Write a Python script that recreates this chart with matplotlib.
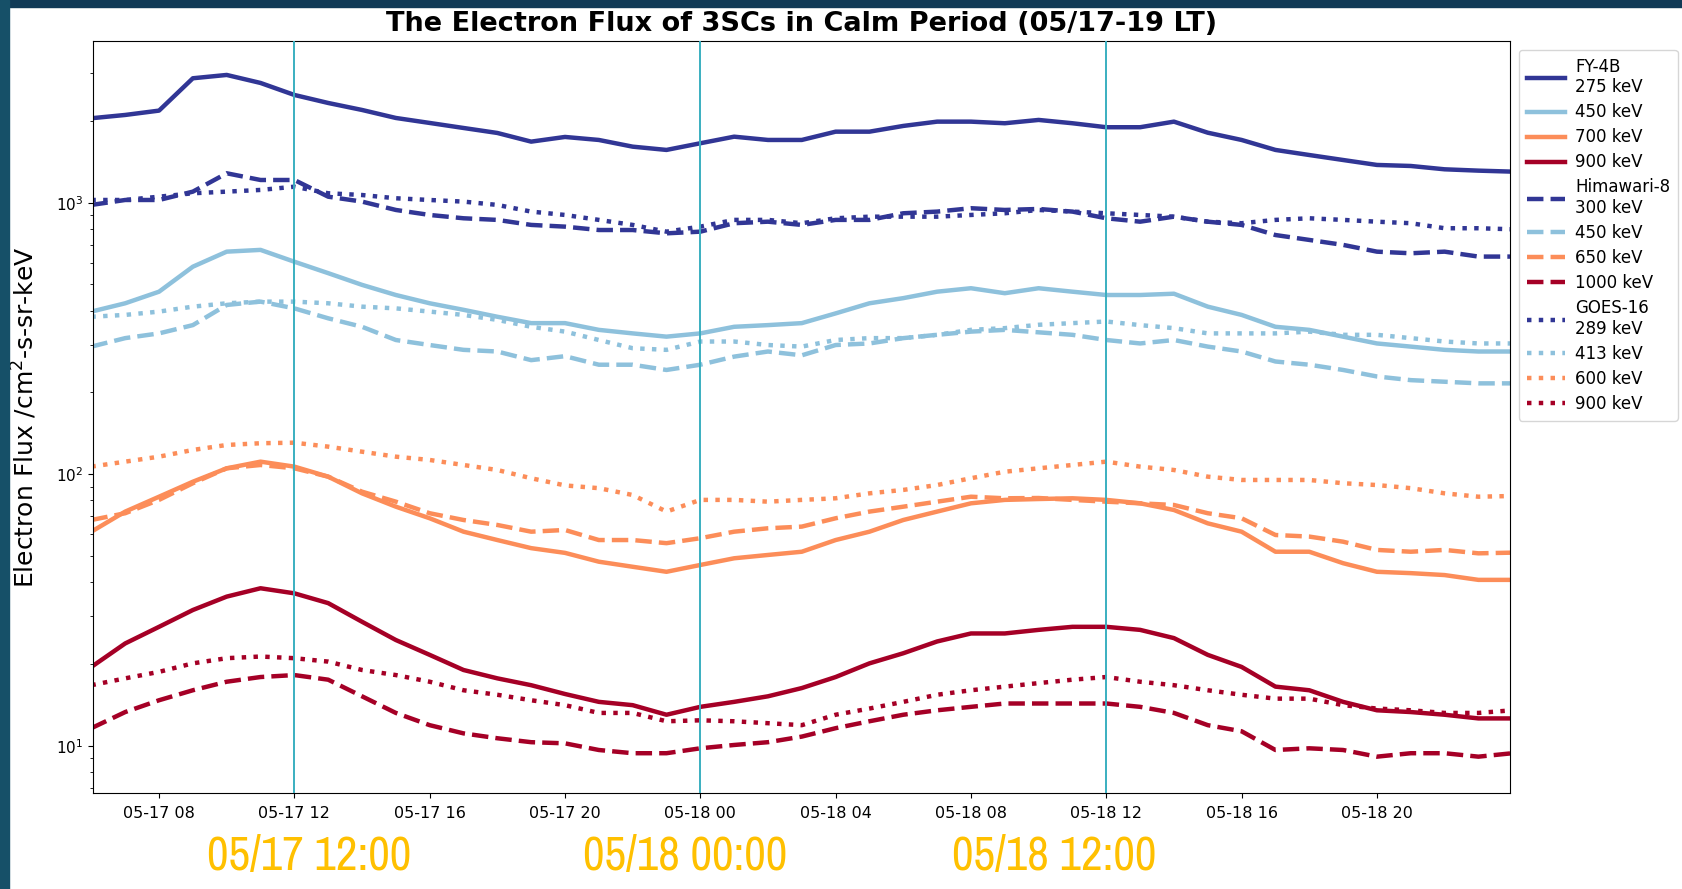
import numpy as np
import pandas as pd
import matplotlib
matplotlib.use('Agg')
import matplotlib.pyplot as plt
import matplotlib.dates as mdates
from matplotlib.patches import Rectangle
from matplotlib import font_manager

# hourly samples, 05-17 06:00 -> 05-19 00:00 (LT)
times = pd.date_range('2023-05-17 06:00', periods=43, freq='h')

# FY-4B (solid)
fy_275 = [2046, 2104, 2183, 2872, 2954, 2760, 2493, 2329, 2195, 2051, 1966, 1884, 1806, 1678, 1746,
          1702, 1608, 1564, 1655, 1750, 1702, 1702, 1826, 1826, 1917, 1988, 1988, 1961, 2017, 1961,
          1896, 1896, 1988, 1810, 1702, 1564, 1498, 1436, 1377, 1365, 1327, 1312, 1301]
fy_450 = [397, 426, 470, 581, 660, 670, 606, 550, 498, 457, 426, 403, 380, 360, 360, 340, 330, 321,
          330, 349, 354, 360, 391, 426, 445, 470, 484, 464, 484, 470, 457, 457, 462, 414, 386, 349,
          340, 321, 303, 295, 287, 283, 283]
fy_700 = [61.4, 72.8, 82.6, 93.8, 105.1, 111.2, 106.6, 97.9, 85.0, 75.9, 68.8, 61.4, 57.2, 53.4, 51.3,
          47.6, 45.6, 43.7, 46.3, 49.0, 50.4, 51.8, 57.2, 61.4, 67.8, 72.8, 78.1, 80.4, 81.0, 81.5,
          80.4, 78.1, 73.8, 65.9, 61.4, 51.8, 51.8, 47.0, 43.7, 43.2, 42.5, 40.8, 40.8]
fy_900 = [19.5, 23.8, 27.4, 31.6, 35.4, 38.0, 36.4, 33.5, 28.6, 24.5, 21.6, 19.0, 17.7, 16.7, 15.5,
          14.5, 14.1, 13.0, 13.9, 14.5, 15.2, 16.3, 17.9, 20.1, 21.9, 24.2, 25.9, 25.9, 26.7, 27.4,
          27.4, 26.7, 24.9, 21.6, 19.5, 16.5, 16.0, 14.5, 13.5, 13.3, 13.0, 12.6, 12.6]

# Himawari-8 (dashed)
hi_300 = [981, 1023, 1023, 1098, 1283, 1212, 1212, 1052, 1009, 940, 901, 876, 864, 828, 816, 793,
          793, 771, 782, 840, 851, 828, 864, 864, 914, 927, 954, 940, 948, 927, 876, 851, 888, 851,
          828, 760, 729, 699, 660, 651, 660, 633, 633]
hi_450 = [295, 317, 330, 354, 420, 432, 408, 375, 349, 312, 299, 287, 283, 263, 272, 253, 253, 242,
          253, 271, 283, 274, 299, 303, 317, 326, 335, 340, 333, 326, 312, 303, 312, 295, 283, 260,
          253, 242, 229, 222, 219, 216, 216]
hi_650 = [67.8, 71.8, 80.4, 92.6, 105.1, 108.1, 105.1, 97.9, 86.2, 79.2, 71.8, 67.8, 65.0, 61.4, 62.3,
          57.2, 57.2, 55.7, 58.1, 61.4, 63.2, 64.1, 68.8, 72.8, 75.9, 79.2, 82.6, 81.5, 81.7, 80.4,
          79.2, 78.1, 77.0, 71.8, 68.8, 59.7, 58.9, 56.4, 52.6, 51.8, 52.6, 51.1, 51.4]
hi_1000 = [11.6, 13.3, 14.7, 16.0, 17.2, 17.9, 18.2, 17.5, 15.2, 13.2, 11.9, 11.1, 10.65, 10.3, 10.2,
           9.64, 9.38, 9.38, 9.78, 10.06, 10.3, 10.8, 11.6, 12.3, 13.0, 13.5, 13.9, 14.3, 14.3, 14.3,
           14.3, 13.9, 13.2, 11.9, 11.3, 9.64, 9.78, 9.64, 9.11, 9.38, 9.38, 9.11, 9.38]

# GOES-16 (dotted)
go_289 = [1023, 1023, 1052, 1083, 1098, 1114, 1145, 1083, 1067, 1038, 1023, 1009, 981, 927, 901, 864,
          828, 782, 816, 864, 864, 840, 876, 888, 888, 888, 901, 914, 940, 927, 914, 901, 888, 851,
          840, 864, 876, 864, 851, 840, 805, 805, 798]
go_413 = [380, 386, 397, 414, 426, 432, 432, 426, 414, 408, 397, 386, 370, 349, 335, 312, 291, 287,
          308, 308, 299, 295, 312, 317, 317, 326, 340, 345, 355, 360, 365, 354, 345, 330, 330, 330,
          335, 326, 326, 317, 308, 303, 303]
go_600 = [106.6, 111.2, 116.0, 122.8, 128.1, 130.0, 130.6, 126.3, 121.0, 116.0, 112.8, 108.1, 103.6,
          96.6, 90.9, 88.8, 83.8, 72.8, 80.4, 80.4, 79.2, 80.4, 81.5, 85.0, 87.5, 91.2, 96.6, 102.1,
          105.1, 108.1, 111.2, 106.6, 103.6, 97.9, 95.2, 95.2, 95.2, 92.6, 91.2, 88.8, 85.0, 82.6, 83.1]
go_900 = [16.7, 17.7, 18.7, 20.1, 21.0, 21.3, 21.0, 20.4, 19.0, 18.2, 17.2, 16.0, 15.4, 14.7, 14.1,
          13.2, 13.2, 12.3, 12.4, 12.3, 12.1, 11.9, 13.0, 13.7, 14.5, 15.4, 16.0, 16.5, 17.0, 17.5,
          17.9, 17.2, 16.7, 16.0, 15.4, 14.9, 14.9, 14.1, 13.7, 13.5, 13.2, 13.2, 13.5]

labels = ['FY-4B\n275 keV', '450 keV', '700 keV', '900 keV',
          'Himawari-8\n300 keV', '450 keV', '650 keV', '1000 keV',
          'GOES-16\n289 keV', '413 keV', '600 keV', '900 keV']
marked_times = ['2023-05-17 12:00', '2023-05-18 00:00', '2023-05-18 12:00']
marked_text = ['05/17 12:00', '05/18 00:00', '05/18 12:00']

colors = ['#313695', '#8ec1dc', '#fc8d59', '#a50026']
series = [fy_275, fy_450, fy_700, fy_900,
          hi_300, hi_450, hi_650, hi_1000,
          go_289, go_413, go_600, go_900]
styles = ['-'] * 4 + ['--'] * 4 + [':'] * 4

plt.rcParams['font.family'] = ['DejaVu Sans']


def narrow_font():
    # pick a narrow face for the captions if one is installed
    wanted = ('narrow', 'condensed')
    for f in font_manager.fontManager.ttflist:
        if any(w in f.name.lower() for w in wanted) and f.style == 'normal' \
                and f.weight in (300, 400, 'normal', 'light', 'regular'):
            return font_manager.FontProperties(fname=f.fname)
    for f in font_manager.fontManager.ttflist:
        if f.stretch not in ('normal', 500) and f.style == 'normal' \
                and f.weight in (400, 'normal', 'regular'):
            return font_manager.FontProperties(fname=f.fname)
    return font_manager.FontProperties(family='DejaVu Sans')


fig = plt.figure(figsize=(16.83, 8.89), dpi=100)
fig.patch.set_facecolor('white')
ax = fig.add_axes([0.0553, 0.1083, 0.8419, 0.8456])

for i, vals in enumerate(series):
    ax.plot(times, vals, color=colors[i % 4], ls=styles[i], lw=3.2, label=labels[i])

for t in marked_times:
    ax.axvline(pd.Timestamp(t), color='#3aafc0', lw=1.4, zorder=5)

ax.set_yscale('log')
ax.set_ylim(6.71, 3940)
ax.set_xlim(pd.Timestamp('2023-05-17 06:03'), pd.Timestamp('2023-05-18 23:56'))
ax.xaxis.set_major_locator(mdates.HourLocator(byhour=range(0, 24, 4)))
ax.xaxis.set_major_formatter(mdates.DateFormatter('%m-%d %H'))
ax.tick_params(axis='x', labelsize=11.5, pad=6)
ax.tick_params(axis='y', labelsize=11)

ax.set_title('The Electron Flux of 3SCs in Calm Period (05/17-19 LT)',
             fontsize=19.5, fontweight='bold', pad=7)
ax.set_ylabel('Electron Flux /cm$^2$-s-sr-keV', fontsize=18)
ax.yaxis.set_label_coords(-0.038, 0.5)

ax.legend(loc='upper left', bbox_to_anchor=(1.0, 1.0), fontsize=12,
          handlelength=2.3, labelspacing=0.42, handletextpad=0.6,
          borderaxespad=0.55, borderpad=0.45)

# slide frame edges
fig.add_artist(Rectangle((0, 1 - 7 / 889), 1, 7 / 889, transform=fig.transFigure,
                         color='#113a56', zorder=10))
fig.add_artist(Rectangle((0, 0), 8.5 / 1683, 1, transform=fig.transFigure,
                         color='#165068', zorder=10))

# yellow captions under the chart, fitted to ~211 px wide
cap_font = narrow_font()
renderer = fig.canvas.get_renderer()
for txt, xc in zip(marked_text, [309, 685, 1054]):
    t = fig.text(xc / 1683, 1 - 856 / 889, txt, color='#ffc000', fontsize=34,
                 fontproperties=cap_font, ha='center', va='center')
    t.set_fontsize(34)
    w = t.get_window_extent(renderer).width
    if w > 211:
        t.set_fontsize(34 * 211 / w)

fig.savefig('out.png', dpi=100)
